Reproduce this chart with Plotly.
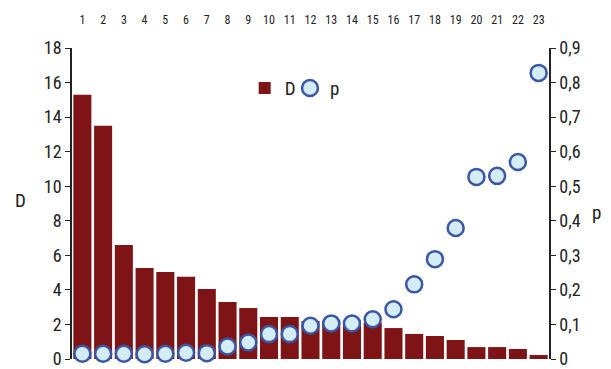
import plotly.graph_objects as go

categories = list(range(1, 24))
D_values = [15.3, 13.5, 6.6, 5.27, 5.03, 4.76, 4.05, 3.3, 2.95, 2.43, 2.43, 2.2,
            2.2, 2.2, 2.1, 1.79, 1.45, 1.33, 1.1, 0.69, 0.69, 0.58, 0.23]
p_values = [0.015, 0.015, 0.015, 0.014, 0.015, 0.018, 0.017, 0.036, 0.048, 0.072,
            0.072, 0.096, 0.103, 0.103, 0.115, 0.144, 0.216, 0.289, 0.379, 0.527,
            0.53, 0.57, 0.828]
left_ticks = [0, 2, 4, 6, 8, 10, 12, 14, 16, 18]
right_tickvals = [0, 0.1, 0.2, 0.3, 0.4, 0.5, 0.6, 0.7, 0.8, 0.9]
right_ticktext = ["0", "0,1", "0,2", "0,3", "0,4", "0,5", "0,6", "0,7", "0,8", "0,9"]

FONT = "Liberation Sans Narrow, Arial Narrow, Roboto Condensed, Roboto, sans-serif"

fig = go.Figure()
fig.add_trace(go.Bar(x=categories, y=D_values, name="D", marker_color="#7f1416",
                     marker_line_width=0, yaxis="y", legend="legend"))
fig.add_trace(go.Scatter(x=categories, y=p_values, name="p", mode="markers", yaxis="y2",
                         cliponaxis=False, legend="legend2",
                         marker=dict(size=16, color="#d4ecf5",
                                     line=dict(color="#3a56a5", width=2.5))))

leg_common = dict(orientation="h", y=0.871, xanchor="left", yanchor="middle",
                  font=dict(size=19), bgcolor="rgba(0,0,0,0)", itemwidth=30)

fig.update_layout(
    width=611, height=369,
    margin=dict(l=72, r=62, t=48, b=10, autoexpand=False),
    paper_bgcolor="white", plot_bgcolor="white",
    font=dict(family=FONT, color="#222222"),
    bargap=0.13,
    showlegend=True,
    legend=dict(x=0.362, **leg_common),
    legend2=dict(x=0.457, **leg_common),
    xaxis=dict(side="top", range=[0.5, 23.5], tickvals=categories,
               ticktext=[str(c) for c in categories], tickfont=dict(size=12),
               showline=False, showgrid=False, zeroline=False, automargin=False,
               ticks="outside", ticklen=18, tickcolor="rgba(0,0,0,0)",
               ticklabeloverflow="allow"),
    yaxis=dict(range=[0, 18], tickvals=left_ticks, showgrid=False, zeroline=False,
               showline=True, linecolor="#222222", linewidth=1.5, automargin=False,
               ticks="outside", ticklen=5, tickcolor="#222222",
               tickfont=dict(size=18), ticklabeloverflow="allow"),
    yaxis2=dict(overlaying="y", side="right", range=[0, 0.9],
                tickvals=right_tickvals, ticktext=right_ticktext,
                showgrid=False, zeroline=False, automargin=False,
                showline=True, linecolor="#222222", linewidth=1.5,
                ticks="outside", ticklen=5, tickcolor="#222222",
                tickfont=dict(size=18), ticklabeloverflow="allow"),
    annotations=[
        dict(text="D", x=-0.108, xref="paper", y=0.51, yref="paper", showarrow=False,
             xanchor="center", yanchor="middle", font=dict(size=19)),
        dict(text="p", x=1.1, y=0.47, xref="paper", yref="paper", showarrow=False,
             xanchor="center", yanchor="middle", font=dict(size=19)),
    ],
)

fig.write_html("out.html", config={"displayModeBar": False},
               post_script="document.body.style.margin='0';")
